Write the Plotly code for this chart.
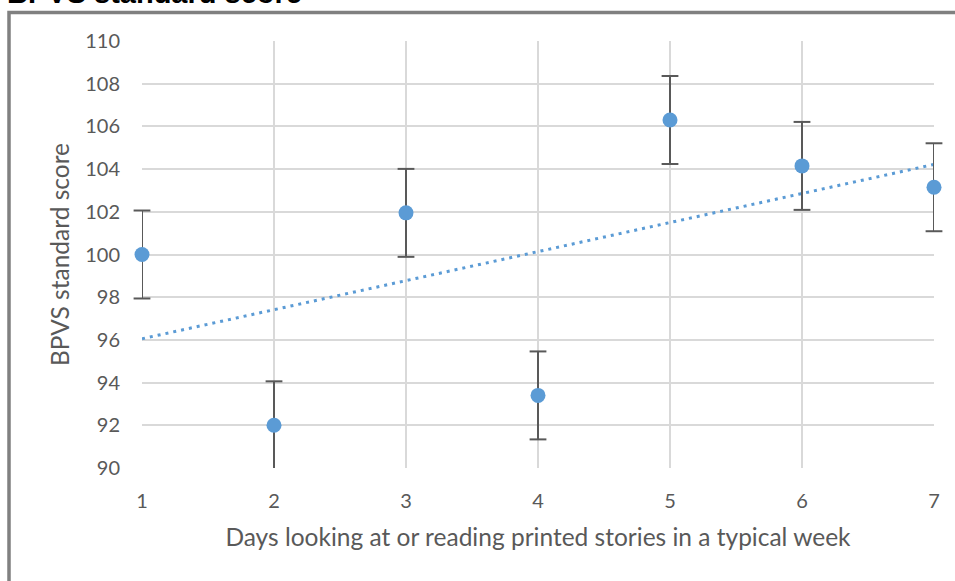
import numpy as np
import plotly.graph_objects as go

# Mean BPVS standard score by days per week spent with printed stories
days = [1, 2, 3, 4, 5, 6, 7]
scores = [100.0, 92.0, 101.95, 93.4, 106.3, 104.15, 103.15]
errors = [2.06, 2.06, 2.06, 2.06, 2.06, 2.06, 2.06]

y_ticks = list(range(90, 111, 2))
y_min, y_max = 90, 110

# Linear trend through the means
slope, intercept = np.polyfit(days, scores, 1)
trend_x = [days[0], days[-1]]
trend_y = [slope * x + intercept for x in trend_x]

W, H = 955, 581
L, R, T, B = 142, 21, 41, 113
pw, ph = W - L - R, H - T - B


def px_x(x):
    return (x - L) / pw


def px_y(y):
    return (H - B - y) / ph


tick_font = dict(family="Lato, 'Open Sans', sans-serif", size=20, color="#595959")
title_font = dict(family="Lato, 'Open Sans', sans-serif", size=24.5, color="#595959")

fig = go.Figure()

fig.add_trace(go.Scatter(
    x=trend_x, y=trend_y, mode="lines",
    line=dict(color="#5b9bd5", width=3, dash="3px,5px"),
    hoverinfo="skip", showlegend=False,
))

# Error-bar stems (clipped to the plot area)
fig.add_trace(go.Scatter(
    x=days, y=scores, mode="markers",
    marker=dict(color="rgba(0,0,0,0)", size=1),
    error_y=dict(type="data", array=errors, visible=True,
                 color="#595959", thickness=2, width=0),
    hoverinfo="skip", showlegend=False,
))

# Error-bar caps, drawn where they fall inside the value axis
cap_x, cap_y = [], []
for d, s, e in zip(days, scores, errors):
    for v in (s - e, s + e):
        if y_min <= v <= y_max:
            cap_x.append(d)
            cap_y.append(v)
fig.add_trace(go.Scatter(
    x=cap_x, y=cap_y, mode="markers",
    marker=dict(symbol="line-ew", size=12, line=dict(color="#595959", width=2)),
    cliponaxis=False, hoverinfo="skip", showlegend=False,
))

fig.add_trace(go.Scatter(
    x=days, y=scores, mode="markers",
    marker=dict(color="#5b9bd5", size=15),
    cliponaxis=False, showlegend=False,
))

fig.update_xaxes(
    range=[1, 7], tickvals=days, ticktext=[str(d) for d in days],
    showgrid=True, gridcolor="#d9d9d9", gridwidth=2,
    zeroline=False, showline=False, ticks="",
    tickfont=tick_font, ticklabelstandoff=19,
    title=dict(text="Days looking at or reading printed stories in a typical week",
               font=title_font, standoff=17),
)
fig.update_yaxes(
    range=[y_min, y_max], tickvals=y_ticks,
    showgrid=True, gridcolor="#d9d9d9", gridwidth=2,
    zeroline=False, showline=False, ticks="",
    tickfont=tick_font, ticklabelstandoff=21,
    title=dict(text="BPVS standard score", font=title_font, standoff=8),
)

# Outer chart frame (runs off the right and bottom edges)
fig.add_shape(
    type="rect", xref="paper", yref="paper",
    x0=px_x(9), x1=px_x(W + 10), y0=px_y(H + 10), y1=px_y(12.5),
    line=dict(color="#808080", width=3.5), fillcolor="rgba(0,0,0,0)", layer="above",
)

# Panel heading above the frame
fig.add_annotation(
    text="<b>BPVS standard score</b>", xref="paper", yref="paper",
    x=px_x(5), y=px_y(11), xanchor="left", yanchor="bottom",
    showarrow=False,
    font=dict(family="'Liberation Sans', Arial, sans-serif", size=29, color="#000000"),
)

fig.update_layout(
    width=W, height=H,
    margin=dict(l=L, r=R, t=T, b=B),
    plot_bgcolor="white", paper_bgcolor="white",
)

fig.write_html("out.html")
